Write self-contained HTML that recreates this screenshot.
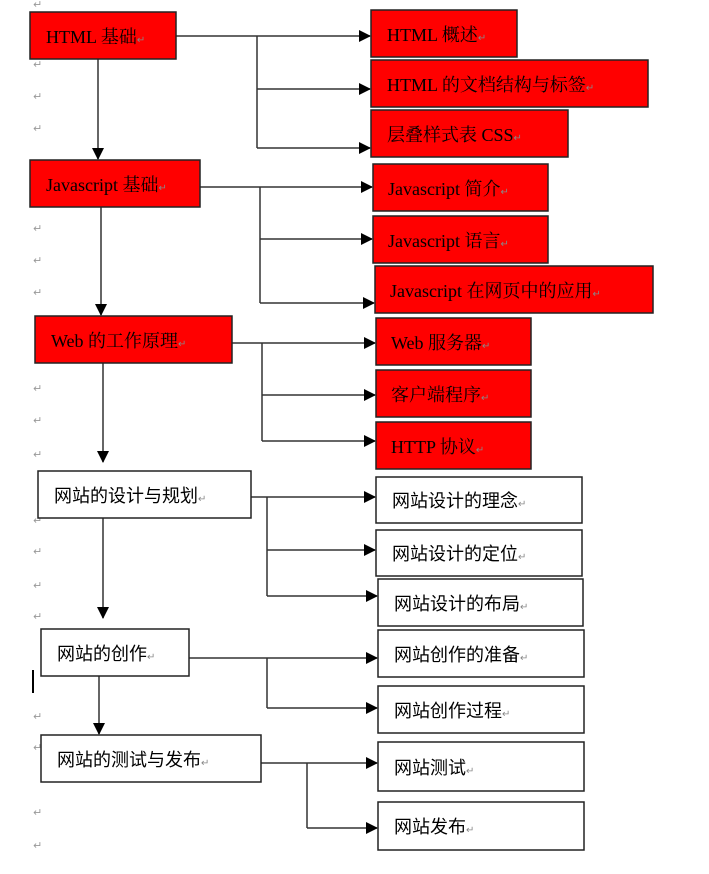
<!DOCTYPE html>
<html><head><meta charset="utf-8"><style>
html,body{margin:0;padding:0;background:#fff;width:709px;height:874px;overflow:hidden}
svg{display:block}
.r{fill:#ff0000;stroke:#222;stroke-width:1.5}
.w{fill:#fff;stroke:#222;stroke-width:1.5}
.t{font-family:"Liberation Serif","Noto Serif CJK SC",serif;font-size:18px;fill:#000}
.s{font-family:"Liberation Sans","Noto Sans CJK SC",sans-serif;font-size:18px;fill:#000}
.p{font-family:"Liberation Sans","DejaVu Sans",sans-serif;font-size:11px;fill:#999}
.q{font-family:"Liberation Sans","DejaVu Sans",sans-serif;font-size:10px;fill:#888}
line,polyline{stroke:#333;stroke-width:1.5;fill:none}
</style></head><body>
<svg width="709" height="874" xmlns="http://www.w3.org/2000/svg">
<defs><marker id="a" markerWidth="12" markerHeight="12" refX="11" refY="6" orient="auto" markerUnits="userSpaceOnUse"><path d="M0,0 L12,6 L0,12z" fill="#000"/></marker></defs>
<g class="p">
<text x="33" y="8">↵</text><text x="33" y="68">↵</text><text x="33" y="100">↵</text><text x="33" y="132">↵</text><text x="33" y="232">↵</text><text x="33" y="264">↵</text><text x="33" y="296">↵</text><text x="33" y="392">↵</text><text x="33" y="424">↵</text><text x="33" y="458">↵</text><text x="33" y="524">↵</text><text x="33" y="555">↵</text><text x="33" y="589">↵</text><text x="33" y="620">↵</text><text x="33" y="720">↵</text><text x="33" y="751">↵</text><text x="33" y="816">↵</text><text x="33" y="849">↵</text>
</g>
<line x1="33" y1="670" x2="33" y2="693" style="stroke:#000;stroke-width:2"/>
<line x1="98" y1="59" x2="98" y2="159" marker-end="url(#a)"/>
<line x1="101" y1="207" x2="101" y2="315" marker-end="url(#a)"/>
<line x1="103" y1="363" x2="103" y2="462" marker-end="url(#a)"/>
<line x1="103" y1="518" x2="103" y2="618" marker-end="url(#a)"/>
<line x1="99" y1="676" x2="99" y2="734" marker-end="url(#a)"/>
<line x1="176" y1="36" x2="370" y2="36" marker-end="url(#a)"/>
<line x1="257" y1="36" x2="257" y2="148"/>
<line x1="257" y1="89" x2="370" y2="89" marker-end="url(#a)"/>
<line x1="257" y1="148" x2="370" y2="148" marker-end="url(#a)"/>
<line x1="200" y1="187" x2="372" y2="187" marker-end="url(#a)"/>
<line x1="260" y1="187" x2="260" y2="303"/>
<line x1="260" y1="239" x2="372" y2="239" marker-end="url(#a)"/>
<line x1="260" y1="303" x2="374" y2="303" marker-end="url(#a)"/>
<line x1="232" y1="343" x2="375" y2="343" marker-end="url(#a)"/>
<line x1="262" y1="343" x2="262" y2="441"/>
<line x1="262" y1="395" x2="375" y2="395" marker-end="url(#a)"/>
<line x1="262" y1="441" x2="375" y2="441" marker-end="url(#a)"/>
<line x1="251" y1="497" x2="375" y2="497" marker-end="url(#a)"/>
<line x1="267" y1="497" x2="267" y2="596"/>
<line x1="267" y1="550" x2="375" y2="550" marker-end="url(#a)"/>
<line x1="267" y1="596" x2="377" y2="596" marker-end="url(#a)"/>
<line x1="189" y1="658" x2="377" y2="658" marker-end="url(#a)"/>
<line x1="267" y1="658" x2="267" y2="708"/>
<line x1="267" y1="708" x2="377" y2="708" marker-end="url(#a)"/>
<line x1="261" y1="763" x2="377" y2="763" marker-end="url(#a)"/>
<line x1="307" y1="763" x2="307" y2="828"/>
<line x1="307" y1="828" x2="377" y2="828" marker-end="url(#a)"/>
<rect class="r" x="30" y="12" width="146" height="47"/><text class="t" x="46" y="43">HTML 基础<tspan class="q">↵</tspan></text>
<rect class="r" x="30" y="160" width="170" height="47"/><text class="t" x="46" y="191">Javascript 基础<tspan class="q">↵</tspan></text>
<rect class="r" x="35" y="316" width="197" height="47"/><text class="t" x="51" y="347">Web 的工作原理<tspan class="q">↵</tspan></text>
<rect class="w" x="38" y="471" width="213" height="47"/><text class="s" x="54" y="502">网站的设计与规划<tspan class="q">↵</tspan></text>
<rect class="w" x="41" y="629" width="148" height="47"/><text class="s" x="57" y="660">网站的创作<tspan class="q">↵</tspan></text>
<rect class="w" x="41" y="735" width="220" height="47"/><text class="s" x="57" y="766">网站的测试与发布<tspan class="q">↵</tspan></text>
<rect class="r" x="371" y="10" width="146" height="47"/><text class="t" x="387" y="41">HTML 概述<tspan class="q">↵</tspan></text>
<rect class="r" x="371" y="60" width="277" height="47"/><text class="t" x="387" y="91">HTML 的文档结构与标签<tspan class="q">↵</tspan></text>
<rect class="r" x="371" y="110" width="197" height="47"/><text class="t" x="387" y="141">层叠样式表 CSS<tspan class="q">↵</tspan></text>
<rect class="r" x="373" y="164" width="175" height="47"/><text class="t" x="388" y="195">Javascript 简介<tspan class="q">↵</tspan></text>
<rect class="r" x="373" y="216" width="175" height="47"/><text class="t" x="388" y="247">Javascript 语言<tspan class="q">↵</tspan></text>
<rect class="r" x="375" y="266" width="278" height="47"/><text class="t" x="390" y="297">Javascript 在网页中的应用<tspan class="q">↵</tspan></text>
<rect class="r" x="376" y="318" width="155" height="47"/><text class="t" x="391" y="349">Web 服务器<tspan class="q">↵</tspan></text>
<rect class="r" x="376" y="370" width="155" height="47"/><text class="t" x="391" y="401">客户端程序<tspan class="q">↵</tspan></text>
<rect class="r" x="376" y="422" width="155" height="47"/><text class="t" x="391" y="453">HTTP 协议<tspan class="q">↵</tspan></text>
<rect class="w" x="376" y="477" width="206" height="46"/><text class="s" x="392" y="507">网站设计的理念<tspan class="q">↵</tspan></text>
<rect class="w" x="376" y="530" width="206" height="46"/><text class="s" x="392" y="560">网站设计的定位<tspan class="q">↵</tspan></text>
<rect class="w" x="378" y="579" width="205" height="47"/><text class="s" x="394" y="610">网站设计的布局<tspan class="q">↵</tspan></text>
<rect class="w" x="378" y="630" width="206" height="47"/><text class="s" x="394" y="661">网站创作的准备<tspan class="q">↵</tspan></text>
<rect class="w" x="378" y="686" width="206" height="47"/><text class="s" x="394" y="717">网站创作过程<tspan class="q">↵</tspan></text>
<rect class="w" x="378" y="742" width="206" height="49"/><text class="s" x="394" y="774">网站测试<tspan class="q">↵</tspan></text>
<rect class="w" x="378" y="802" width="206" height="48"/><text class="s" x="394" y="833">网站发布<tspan class="q">↵</tspan></text>
</svg>
</body></html>
